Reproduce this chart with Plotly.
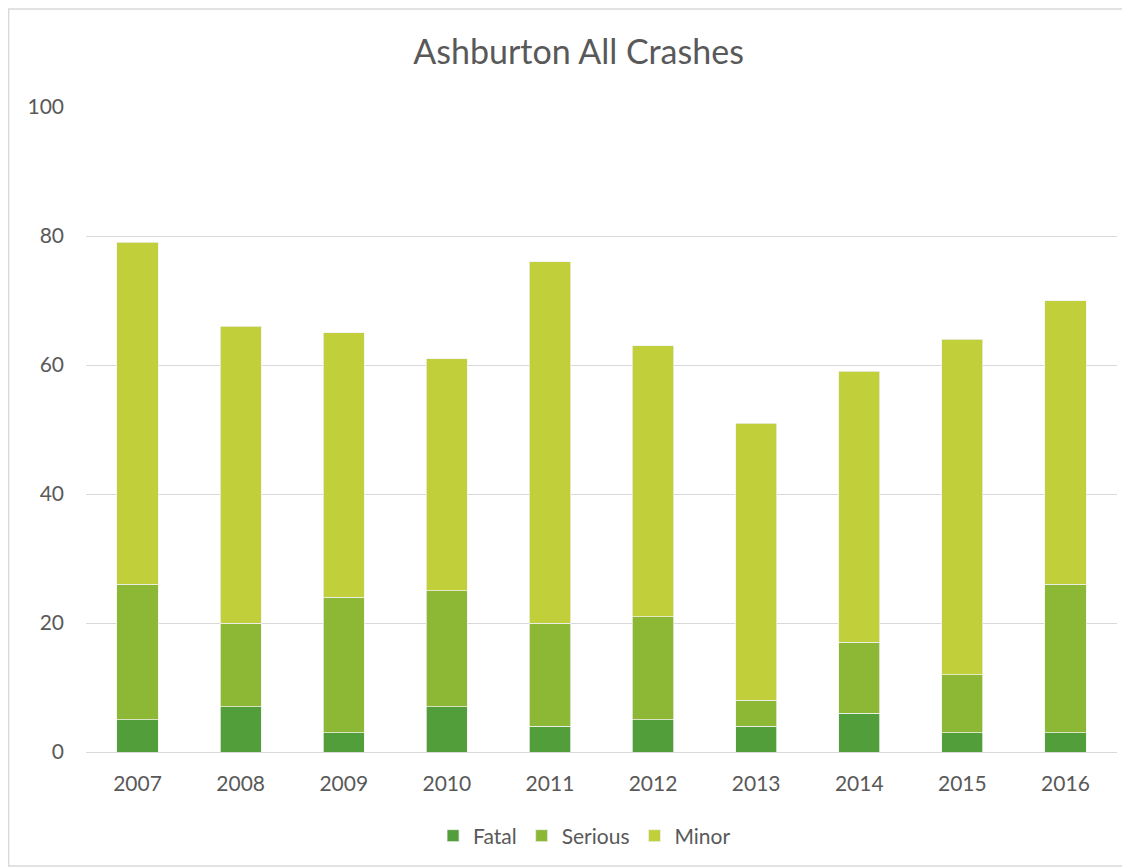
import plotly.graph_objects as go

years = ["2007", "2008", "2009", "2010", "2011", "2012", "2013", "2014", "2015", "2016"]
fatal = [5, 7, 3, 7, 4, 5, 4, 6, 3, 3]
serious = [21, 13, 21, 18, 16, 16, 4, 11, 9, 23]
minor = [53, 46, 41, 36, 56, 42, 43, 42, 52, 44]

series = [("Fatal", fatal, "#519E3A"), ("Serious", serious, "#8CB836"), ("Minor", minor, "#C0CF3A")]

fig = go.Figure()
for name, vals, col in series:
    fig.add_trace(go.Bar(x=years, y=vals, name=name, marker=dict(color=col, line=dict(color="#F2F2F2", width=0.75))))

OFF = 8  # page body margin
W, H = 1130 - OFF, 868 - OFF
L, R, T, B = 86.4 - OFF, 1117.5 - OFF, 107 - OFF, 752 - OFF
pw, ph = R - L, B - T

def px(x):
    return (x - OFF - L) / pw

def py(y):
    return (B - (y - OFF)) / ph

fig.update_layout(
    width=W, height=H,
    barmode="stack", bargap=0.6,
    paper_bgcolor="white", plot_bgcolor="white",
    margin=dict(l=L, r=W - R, t=T, b=H - B, autoexpand=False),
    font=dict(family="Lato, Open Sans, sans-serif", color="#595959", size=20),
    title=dict(text="Ashburton All Crashes", x=px(579), xref="paper", xanchor="center",
               y=1 - (52 - OFF) / H, yanchor="middle", font=dict(size=34, color="#595959")),
    legend=dict(orientation="h", x=px(585), xanchor="center", xref="paper", y=py(836), yanchor="middle",
                font=dict(size=21, color="#595959"), traceorder="normal", itemwidth=30),
    xaxis=dict(showgrid=False, showline=True, linecolor="#D9D9D9", linewidth=1, ticks="",
               tickfont=dict(size=21, color="#595959"), ticklabelstandoff=13),
    yaxis=dict(range=[0, 100], dtick=20, showgrid=True, gridcolor="#D9D9D9", gridwidth=1,
               zeroline=False, showline=False, ticks="", tickfont=dict(size=21, color="#595959"),
               ticklabelstandoff=21),
    shapes=[dict(type="rect", xref="paper", yref="paper", x0=px(9), x1=px(1127), y0=py(866), y1=py(9),
                 line=dict(color="#D9D9D9", width=1.5), fillcolor="rgba(0,0,0,0)", layer="below")],
)

fig.write_html("out.html")
